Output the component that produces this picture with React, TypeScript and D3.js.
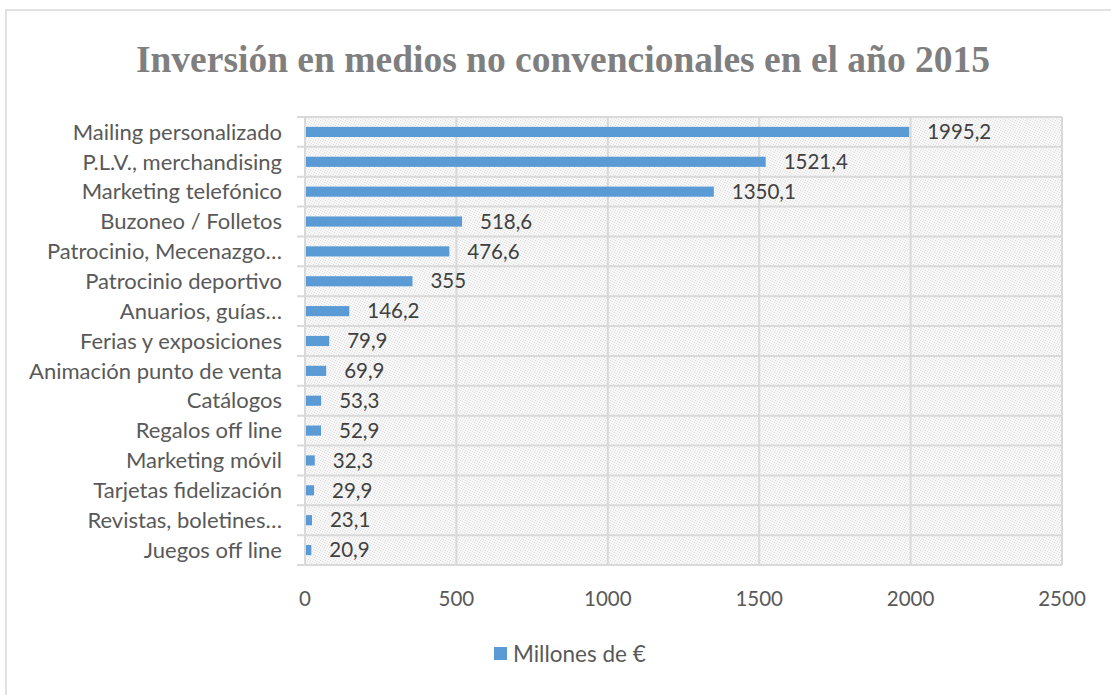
import { useEffect, useRef } from 'react'
import * as d3 from 'd3'

const categories = [
  'Mailing personalizado',
  'P.L.V., merchandising',
  'Marketing telefónico',
  'Buzoneo / Folletos',
  'Patrocinio, Mecenazgo…',
  'Patrocinio deportivo',
  'Anuarios, guías…',
  'Ferias y exposiciones',
  'Animación punto de venta',
  'Catálogos',
  'Regalos off line',
  'Marketing móvil',
  'Tarjetas fidelización',
  'Revistas, boletines…',
  'Juegos off line',
]
const values = [1995.2, 1521.4, 1350.1, 518.6, 476.6, 355, 146.2, 79.9, 69.9, 53.3, 52.9, 32.3, 29.9, 23.1, 20.9]
const xTicks = [0, 500, 1000, 1500, 2000, 2500]
const title = 'Inversión en medios no convencionales en el año 2015'
const seriesName = 'Millones de €'

const W = 1111
const H = 695
const font = 'Lato, "Open Sans", sans-serif'

export default function App() {
  const svgRef = useRef<SVGSVGElement>(null)

  useEffect(() => {
    if (!svgRef.current) return
    const svg = d3.select(svgRef.current)
    svg.selectAll('*').remove()

    const plot = { left: 305, right: 1062, top: 117, bottom: 565 }

    const x = d3.scaleLinear().domain([0, 2500]).range([plot.left, plot.right])
    const y = d3.scaleBand<string>().domain(categories).range([plot.top, plot.bottom]).paddingInner(0.66).paddingOuter(0.33)
    const band = d3.scaleBand<string>().domain(categories).range([plot.top, plot.bottom])

    // background pattern (fine, irregular light dots)
    const defs = svg.append('defs')
    const pat = defs.append('pattern').attr('id', 'dots').attr('width', 5).attr('height', 5).attr('patternUnits', 'userSpaceOnUse')
    pat.append('rect').attr('width', 5).attr('height', 5).attr('fill', '#f6f6f6')
    const dots: [number, number, string][] = [[0, 0, '#dedede'], [2, 1, '#e6e6e6'], [4, 2, '#dedede'], [1, 3, '#e6e6e6'], [3, 4, '#e2e2e2']]
    dots.forEach(([dx, dy, c]) => {
      pat.append('rect').attr('x', dx).attr('y', dy).attr('width', 1).attr('height', 1).attr('fill', c)
    })

    // outer frame
    svg.append('rect').attr('x', 6).attr('y', 10).attr('width', W).attr('height', H)
      .attr('fill', 'white').attr('stroke', '#d9d9d9').attr('stroke-width', 1.5)

    // title
    svg.append('text').attr('x', 563).attr('y', 72).attr('text-anchor', 'middle')
      .attr('font-family', '"Liberation Serif", "Times New Roman", serif').attr('font-weight', 'bold')
      .attr('font-size', 37.5).attr('fill', '#7f7f7f').text(title)

    svg.append('rect').attr('x', plot.left).attr('y', plot.top)
      .attr('width', plot.right - plot.left).attr('height', plot.bottom - plot.top).attr('fill', 'url(#dots)')

    const g = svg.append('g')

    // horizontal grid lines between categories
    const hLines = categories.map((c) => band(c) as number).concat([plot.bottom])
    g.selectAll('line.h').data(hLines).join('line')
      .attr('x1', plot.left - 8).attr('x2', plot.right)
      .attr('y1', (d) => d).attr('y2', (d) => d)
      .attr('stroke', '#d9d9d9').attr('stroke-width', 2)

    g.selectAll('line.v').data(xTicks).join('line')
      .attr('x1', (d) => x(d)).attr('x2', (d) => x(d))
      .attr('y1', plot.top).attr('y2', plot.bottom)
      .attr('stroke', '#d9d9d9').attr('stroke-width', 2)

    // bars
    g.selectAll('rect.bar').data(values).join('rect')
      .attr('x', x(0) + 1)
      .attr('y', (_, i) => y(categories[i]) as number)
      .attr('width', (d) => x(d) - x(0) - 1)
      .attr('height', y.bandwidth())
      .attr('fill', '#5b9bd5')

    // value labels
    g.selectAll('text.val').data(values).join('text')
      .attr('x', (d) => x(d) + 18)
      .attr('y', (_, i) => (band(categories[i]) as number) + band.bandwidth() / 2)
      .attr('dy', '0.35em')
      .attr('font-family', font).attr('font-size', 20.5).attr('fill', '#404040')
      .text((d) => String(d).replace('.', ','))

    // category labels
    g.selectAll('text.cat').data(categories).join('text')
      .attr('x', plot.left - 23)
      .attr('y', (d) => (band(d) as number) + band.bandwidth() / 2)
      .attr('dy', '0.35em')
      .attr('text-anchor', 'end')
      .attr('font-family', font).attr('font-size', 22).attr('fill', '#595959')
      .text((d) => d)

    // x tick labels
    g.selectAll('text.xt').data(xTicks).join('text')
      .attr('x', (d) => x(d)).attr('y', 606)
      .attr('text-anchor', 'middle')
      .attr('font-family', font).attr('font-size', 20.5).attr('fill', '#595959')
      .text((d) => String(d))

    // legend
    svg.append('rect').attr('x', 494).attr('y', 647).attr('width', 13).attr('height', 13).attr('fill', '#5b9bd5')
    svg.append('text').attr('x', 513).attr('y', 662)
      .attr('font-family', font).attr('font-size', 22.5).attr('fill', '#595959').text(seriesName)
  }, [])

  return (
    <div style={{ position: 'absolute', left: 0, top: 0, width: W, height: H, overflow: 'hidden' }}>
      <svg ref={svgRef} width={W} height={H} style={{ display: 'block' }} />
    </div>
  )
}
